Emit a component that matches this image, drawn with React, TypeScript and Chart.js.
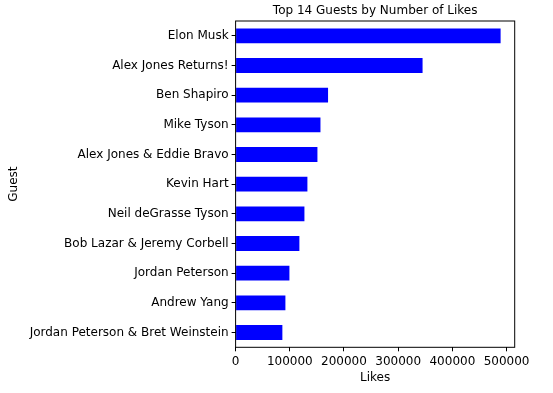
import React, { useEffect, useRef } from "react";
import { Chart, registerables } from "chart.js";

Chart.register(...registerables);

const guests = [
  "Elon Musk",
  "Alex Jones Returns!",
  "Ben Shapiro",
  "Mike Tyson",
  "Alex Jones & Eddie Bravo",
  "Kevin Hart",
  "Neil deGrasse Tyson",
  "Bob Lazar & Jeremy Corbell",
  "Jordan Peterson",
  "Andrew Yang",
  "Jordan Peterson & Bret Weinstein",
];

const likes = [
  489000, 345000, 170600, 156600, 151000, 132500, 127000, 117700, 99300, 91900, 86300,
];

const xTicks = [0, 100000, 200000, 300000, 400000, 500000];

const chartTitle = "Top 14 Guests by Number of Likes";
const xTitle = "Likes";
const yTitle = "Guest";

const FONT = "'DejaVu Sans', sans-serif";

export default function App() {
  const ref = useRef<HTMLCanvasElement | null>(null);

  useEffect(() => {
    if (!ref.current) return;
    const boxPlugin = {
      id: "boxAndTitle",
      afterDatasetsDraw(chart: any) {
        const { ctx, chartArea } = chart;
        ctx.save();
        ctx.strokeStyle = "#000";
        ctx.lineWidth = 1;
        ctx.strokeRect(
          chartArea.left,
          chartArea.top,
          chartArea.right - chartArea.left,
          chartArea.bottom - chartArea.top
        );
        ctx.fillStyle = "#000";
        ctx.font = `12px ${FONT}`;
        ctx.textAlign = "center";
        ctx.textBaseline = "middle";
        ctx.fillText(chartTitle, (chartArea.left + chartArea.right) / 2, 11);
        ctx.restore();
      },
    };

    const chart = new Chart(ref.current, {
      type: "bar",
      data: {
        labels: guests,
        datasets: [
          {
            data: likes,
            backgroundColor: "#0000ff",
            borderWidth: 0,
            barPercentage: 0.5,
            categoryPercentage: 1,
          },
        ],
      },
      options: {
        indexAxis: "y",
        responsive: false,
        animation: false,
        layout: { padding: { left: 0, right: 38.3, top: 21, bottom: 0 } },
        plugins: {
          legend: { display: false },
          title: { display: false },
          tooltip: { enabled: false },
        },
        scales: {
          x: {
            type: "linear",
            min: 0,
            max: 515000,
            afterBuildTicks: (s: any) => {
              s.ticks = xTicks.map((v) => ({ value: v }));
            },
            afterFit: (s: any) => {
              s.height = 45.7;
            },
            ticks: {
              color: "#000",
              font: { family: FONT, size: 12 },
              padding: 3,
              maxRotation: 0,
              autoSkip: false,
              callback: (v: any) => String(v),
            },
            grid: {
              drawOnChartArea: false,
              drawTicks: true,
              tickLength: 4,
              color: "#000",
            },
            border: { display: false },
            title: {
              display: true,
              text: xTitle,
              color: "#000",
              font: { family: FONT, size: 12 },
              padding: { top: 0, bottom: 8 },
            },
          },
          y: {
            afterFit: (s: any) => {
              s.width = 235.6;
            },
            ticks: {
              color: "#000",
              font: { family: FONT, size: 12 },
              padding: 3,
              autoSkip: false,
            },
            grid: {
              drawOnChartArea: false,
              drawTicks: true,
              tickLength: 4,
              color: "#000",
              offset: false,
            },
            border: { display: false },
            title: {
              display: true,
              text: yTitle,
              color: "#000",
              font: { family: FONT, size: 12 },
              padding: { top: 7, bottom: 0 },
            },
          },
        },
      },
      plugins: [boxPlugin],
    });
    return () => chart.destroy();
  }, []);

  return (
    <div style={{ position: "absolute", left: 0, top: 0, width: 553, height: 393, background: "#fff" }}>
      <canvas ref={ref} width={553} height={393} style={{ width: 553, height: 393, display: "block" }} />
    </div>
  );
}
